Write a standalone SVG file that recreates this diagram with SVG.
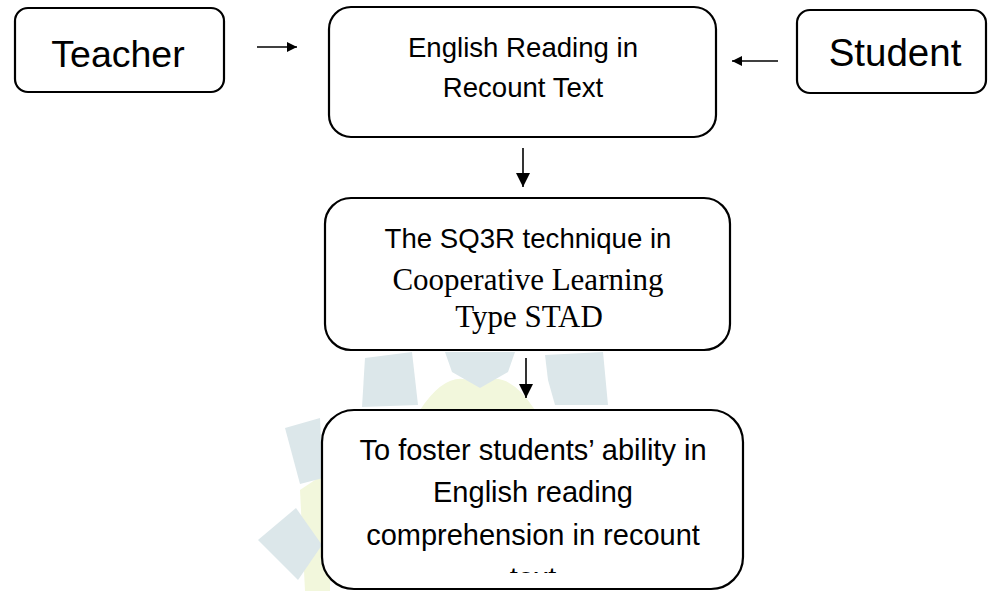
<svg xmlns="http://www.w3.org/2000/svg" width="989" height="591" viewBox="0 0 989 591">
<style>
.box{fill:#fff;stroke:#000;stroke-width:2.2}
.sans{font-family:"Liberation Sans",Arial,sans-serif;fill:#000;text-anchor:middle}
.serif{font-family:"Liberation Serif","Times New Roman",serif;fill:#000;text-anchor:middle}
.conn{stroke:#000;stroke-width:1.6;fill:none}
.wb{fill:#dce7ea}
.wy{fill:#f2f7dc}
</style>
<defs>
<marker id="ah" viewBox="0 0 10 10" refX="10" refY="5" markerWidth="11" markerHeight="10" markerUnits="userSpaceOnUse" orient="auto">
<path d="M0,0 L10,5 L0,10 z" fill="#000"/>
</marker>
<marker id="ahv" viewBox="0 0 10 10" refX="10" refY="5" markerWidth="14" markerHeight="14" markerUnits="userSpaceOnUse" orient="auto">
<path d="M0,0 L10,5 L0,10 z" fill="#000"/>
</marker>
<clipPath id="clip3"><rect x="320" y="405" width="430" height="168"/></clipPath>
</defs>
<rect width="989" height="591" fill="#fff"/>
<g id="watermark">
<path class="wy" d="M420,410 Q450,365 478,385 Q505,365 535,410 Z"/>
<path class="wy" d="M300,490 L330,470 L330,591 L305,591 Z"/>
<path class="wb" d="M365,358 L412,352 L418,405 L362,407 Z"/>
<path class="wb" d="M445,352 L515,352 L508,372 L480,388 L452,372 Z"/>
<path class="wb" d="M545,355 L603,352 L608,405 L555,405 L548,380 Z"/>
<path class="wb" d="M285,428 L320,418 L323,478 L300,484 Z"/>
<path class="wb" d="M258,540 L296,508 L322,545 L298,580 Z"/>
</g>
<g id="connectors">
<line class="conn" x1="257" y1="47" x2="297" y2="47" marker-end="url(#ah)"/>
<line class="conn" x1="778" y1="61" x2="732" y2="61" marker-end="url(#ah)"/>
<line class="conn" x1="523" y1="148" x2="523" y2="187" marker-end="url(#ahv)"/>
<line class="conn" x1="526" y1="358" x2="526" y2="398" marker-end="url(#ahv)"/>
</g>
<g id="teacher">
<rect class="box" x="15" y="8" width="209" height="84" rx="13"/>
<text class="sans" x="118" y="67" font-size="37.5">Teacher</text>
</g>
<g id="student">
<rect class="box" x="797" y="10" width="189" height="83" rx="13"/>
<text class="sans" x="895" y="66" font-size="38.5">Student</text>
</g>
<g id="reading">
<rect class="box" x="329" y="7" width="387" height="130" rx="22"/>
<text class="sans" x="523" y="57" font-size="27.6">English Reading in</text>
<text class="sans" x="523" y="97" font-size="27.6">Recount Text</text>
</g>
<g id="sq3r">
<rect class="box" x="325" y="198" width="405" height="152" rx="26"/>
<text class="sans" x="528" y="248" font-size="27.6">The SQ3R technique in</text>
<text class="serif" x="528" y="290" font-size="31">Cooperative Learning</text>
<text class="serif" x="529" y="327" font-size="31">Type STAD</text>
</g>
<g id="goal">
<rect class="box" x="322" y="410" width="421" height="179" rx="32"/>
<g clip-path="url(#clip3)">
<text class="sans" x="533" y="460" font-size="29">To foster students’ ability in</text>
<text class="sans" x="533" y="502" font-size="29">English reading</text>
<text class="sans" x="533" y="545" font-size="29">comprehension in recount</text>
<text class="sans" x="533" y="588" font-size="29">text</text>
</g>
</g>
</svg>
